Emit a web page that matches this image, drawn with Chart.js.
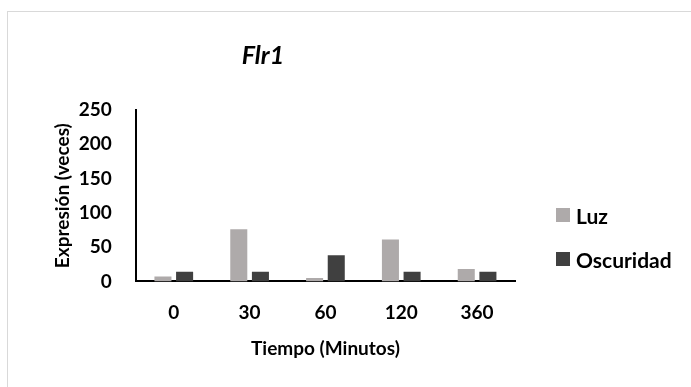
<!DOCTYPE html>
<html>
<head>
<meta charset="utf-8">
<script src="https://cdn.jsdelivr.net/npm/chart.js@4"></script>
<style>
  html, body { margin: 0; padding: 0; background: #fff; }
  #wrap { position: relative; width: 691px; height: 387px; }
  #frame { position: absolute; left: 7px; top: 11px; right: 0; bottom: 0;
           border-top: 1px solid #d9d9d9; border-left: 1px solid #d9d9d9; }
  canvas { position: absolute; left: 0; top: 0; }
  #legend { position: absolute; left: 556px; top: 201px; margin: 0; padding: 0; list-style: none;
            font: bold 21px Lato, "Open Sans", sans-serif; color: #000; }
  #legend li { display: flex; align-items: center; height: 28px; margin-bottom: 16px; white-space: nowrap; }
  #legend span.box { display: inline-block; width: 14px; height: 14px; margin-right: 6px; }
</style>
</head>
<body>
<div id="wrap">
  <div id="frame"></div>
  <canvas id="chart" width="691" height="387"></canvas>
  <ul id="legend"></ul>
</div>
<script>
// Data
const tiempos = ['0', '30', '60', '120', '360'];
const luz = [7, 76, 5, 61, 18];
const oscuridad = [14, 14, 38, 14, 14];
const yTicks = [0, 50, 100, 150, 200, 250];

const FONT = 'Lato, "Open Sans", sans-serif';

// Title is drawn off-centre in the original, so draw it by hand
const titlePlugin = {
  id: 'offTitle',
  afterDraw(chart) {
    const ctx = chart.ctx;
    ctx.save();
    ctx.font = 'italic bold 25px ' + FONT;
    ctx.fillStyle = '#000';
    ctx.textAlign = 'center';
    ctx.textBaseline = 'middle';
    ctx.fillText('Flr1', 263, 56);
    ctx.restore();
  }
};

const ctx = document.getElementById('chart').getContext('2d');
const chart = new Chart(ctx, {
  type: 'bar',
  data: {
    labels: tiempos,
    datasets: [
      { label: 'Luz', data: luz, backgroundColor: '#aeaaaa' },
      { label: 'Oscuridad', data: oscuridad, backgroundColor: '#404040' }
    ]
  },
  options: {
    responsive: false,
    animation: false,
    events: [],
    categoryPercentage: 0.571,
    barPercentage: 0.787,
    layout: { padding: { top: 110, left: 51, right: 176, bottom: 27 } },
    plugins: {
      tooltip: { enabled: false },
      legend: { display: false }
    },
    scales: {
      x: {
        grid: { display: false, drawTicks: false },
        border: { color: '#000', width: 2 },
        ticks: { color: '#000', padding: 20, font: { family: FONT, size: 19, weight: 'bold' } },
        title: {
          display: true, text: 'Tiempo (Minutos)', color: '#000',
          font: { family: FONT, size: 19, weight: 'bold' },
          padding: { top: -7, bottom: 0 }
        }
      },
      y: {
        min: 0,
        max: 250,
        afterBuildTicks(scale) { scale.ticks = yTicks.map(v => ({ value: v })); },
        grid: { display: false, drawTicks: false },
        border: { color: '#000', width: 2 },
        ticks: { color: '#000', padding: 24, font: { family: FONT, size: 19, weight: 'bold' } },
        title: {
          display: true, text: 'Expresión (veces)', color: '#000',
          font: { family: FONT, size: 19, weight: 'bold' },
          padding: { top: 0, bottom: -19 }
        }
      }
    }
  },
  plugins: [titlePlugin]
});

// Legend on the right, built from the datasets
const legend = document.getElementById('legend');
chart.data.datasets.forEach(ds => {
  const li = document.createElement('li');
  const box = document.createElement('span');
  box.className = 'box';
  box.style.background = ds.backgroundColor;
  li.appendChild(box);
  li.appendChild(document.createTextNode(ds.label));
  legend.appendChild(li);
});
</script>
</body>
</html>
